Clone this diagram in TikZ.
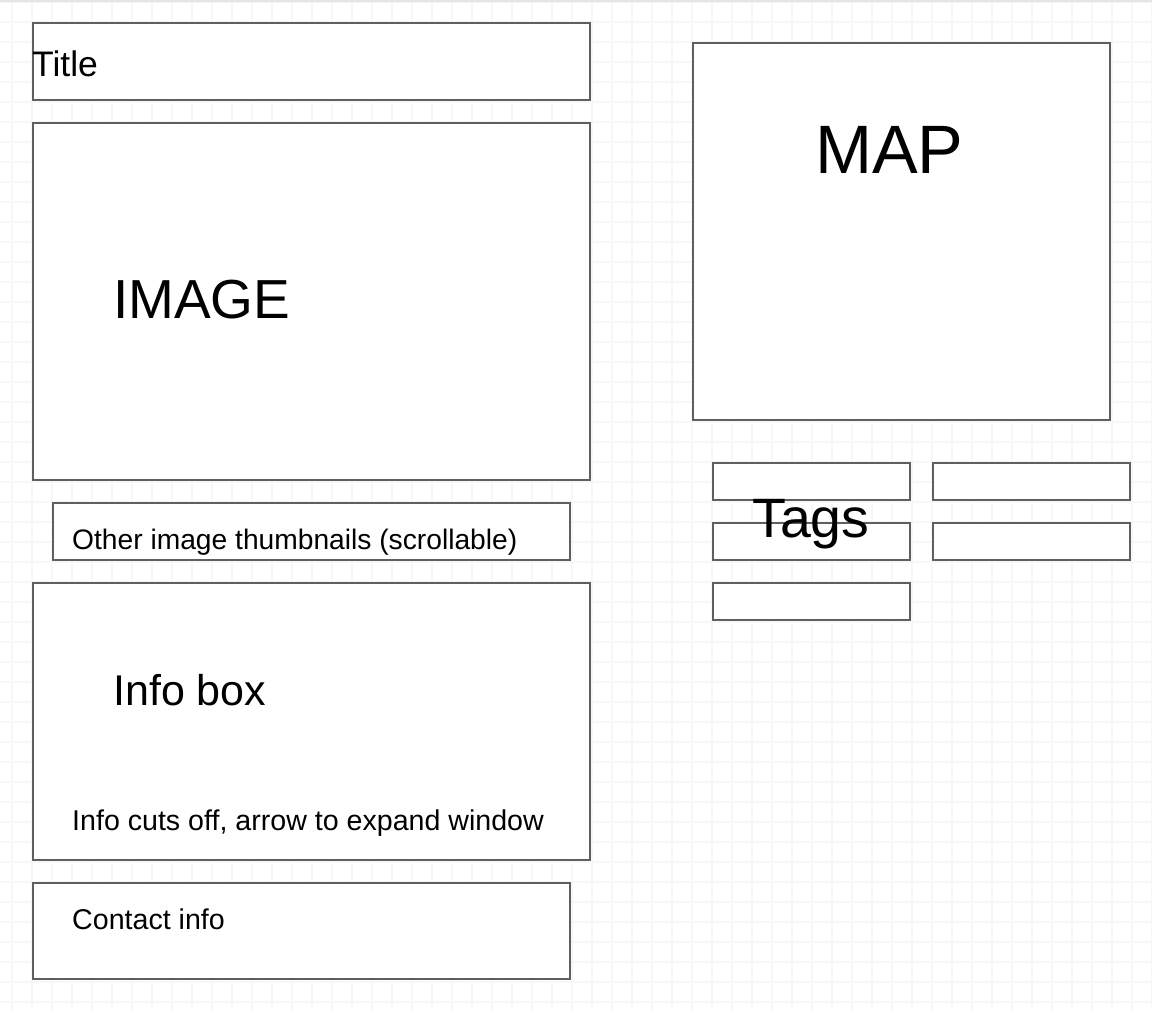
\documentclass[tikz,border=0pt]{standalone}
\usepackage{fontspec}
\setmainfont{Liberation Sans}
\usepackage{tikz}
\usetikzlibrary{calc}

\definecolor{gridgray}{RGB}{247,247,247}
\definecolor{edgegray}{RGB}{95,95,95}
\definecolor{bandgray}{RGB}{228,228,228}

\tikzset{
  box/.style={draw=edgegray, line width=2.8pt, fill=white},
  label/.style={anchor=base west, inner sep=0pt, text=black}
}

\begin{document}
\begin{tikzpicture}[x=1pt,y=-1pt]
\useasboundingbox (0,0) rectangle (1152,1010);
% Background grid
\fill[white] (0,0) rectangle (1152,1010);
\foreach \gx in {12,32,...,1152}
  \draw[gridgray, line width=1.2pt] (\gx,2) -- (\gx,1010);
\foreach \gy in {2,22,...,1010}
  \draw[gridgray, line width=1.2pt] (0,\gy) -- (1152,\gy);
\fill[bandgray] (0,0) rectangle (1152,2);
% Left column boxes
\draw[box] (33,23) rectangle (590,100);
\draw[box] (33,123) rectangle (590,480);
\draw[box] (53,503) rectangle (570,560);
\draw[box] (33,583) rectangle (590,860);
\draw[box] (33,883) rectangle (570,979);
% Map and tag boxes
\draw[box] (693,43) rectangle (1110,420);
\draw[box] (713,463) rectangle (910,500);
\draw[box] (933,463) rectangle (1130,500);
\draw[box] (713,523) rectangle (910,560);
\draw[box] (933,523) rectangle (1130,560);
\draw[box] (713,583) rectangle (910,620);
% Labels
\node[label, font=\fontsize{35.5}{42}\selectfont] (title) at (32,76) {Title};
\node[label, font=\fontsize{55}{64}\selectfont] (image) at (113,318) {IMAGE};
\node[label, font=\fontsize{28.2}{34}\selectfont] (thumbs) at (72,549) {Other image thumbnails (scrollable)};
\node[label, font=\fontsize{43}{50}\selectfont] (info) at (113,705) {Info box};
\node[label, font=\fontsize{28.6}{34}\selectfont] (cuts) at (72,830) {Info cuts off, arrow to expand window};
\node[label, font=\fontsize{28.6}{34}\selectfont] (contact) at (72,929) {Contact info};
\node[label, font=\fontsize{68.5}{78}\selectfont] (map) at (815,173) {MAP};
\node[label, font=\fontsize{55.5}{64}\selectfont] (tags) at (752,537) {Tags};
\end{tikzpicture}
\end{document}
